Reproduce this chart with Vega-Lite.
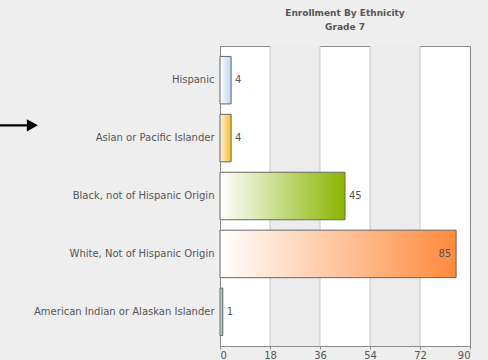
{
  "$schema": "https://vega.github.io/schema/vega-lite/v6.json",
  "width": 250,
  "height": 300,
  "autosize": {"type": "none"},
  "padding": {"left": 220, "top": 46, "right": 18, "bottom": 14},
  "background": "#eeeeee",
  "title": {
    "text": ["Enrollment By Ethnicity", "Grade 7"],
    "font": "DejaVu Sans",
    "fontSize": 9,
    "fontWeight": "bold",
    "color": "#555555",
    "lineHeight": 14,
    "offset": 14,
    "anchor": "middle"
  },
  "config": {
    "view": {"fill": "#ffffff", "stroke": "#8a8a8a", "strokeWidth": 1},
    "font": "DejaVu Sans"
  },
  "datasets": {
    "enroll": [
      {"group": "Hispanic", "value": 4},
      {"group": "Asian or Pacific Islander", "value": 4},
      {"group": "Black, not of Hispanic Origin", "value": 45},
      {"group": "White, Not of Hispanic Origin", "value": 85},
      {"group": "American Indian or Alaskan Islander", "value": 1}
    ],
    "bands": [{"start": 18, "end": 36}, {"start": 54, "end": 72}],
    "grid": [{"v": 18}, {"v": 36}, {"v": 54}, {"v": 72}]
  },
  "layer": [
    {
      "data": {"name": "bands"},
      "mark": {"type": "rect", "fill": "#ececec"},
      "encoding": {
        "x": {"field": "start", "type": "quantitative", "scale": {"domain": [0, 90]}},
        "x2": {"field": "end"}
      }
    },
    {
      "data": {"name": "grid"},
      "mark": {"type": "rule", "color": "#c8c8c8", "strokeWidth": 1},
      "encoding": {
        "x": {"field": "v", "type": "quantitative"}
      }
    },
    {
      "data": {"name": "enroll"},
      "mark": {"type": "bar", "stroke": "#666666", "strokeWidth": 1},
      "encoding": {
        "x": {
          "field": "value",
          "type": "quantitative",
          "scale": {"domain": [0, 90]},
          "axis": {
            "values": [0, 18, 36, 54, 72, 90],
            "title": null,
            "grid": false,
            "domain": false,
            "tickColor": "#888888",
            "tickSize": 3,
            "labelColor": "#555555",
            "labelFont": "DejaVu Sans",
            "labelFontSize": 10,
            "labelPadding": 1
          }
        },
        "y": {
          "field": "group",
          "type": "nominal",
          "sort": null,
          "scale": {
            "domain": ["Hispanic", "Asian or Pacific Islander", "Black, not of Hispanic Origin", "White, Not of Hispanic Origin", "American Indian or Alaskan Islander"],
            "paddingInner": 0.18,
            "paddingOuter": 0.18
          },
          "axis": {
            "title": null,
            "ticks": false,
            "domain": false,
            "labelPadding": 6,
            "labelLimit": 230,
            "labelFont": "DejaVu Sans",
            "labelFontSize": 10,
            "labelColor": "#555555"
          }
        },
        "fill": {
          "condition": [
            {"test": "datum.group === 'Hispanic'", "value": {"gradient": "linear", "stops": [{"offset": 0, "color": "#ffffff"}, {"offset": 1, "color": "#bcd6f2"}]}},
            {"test": "datum.group === 'Asian or Pacific Islander'", "value": {"gradient": "linear", "stops": [{"offset": 0, "color": "#fff4d6"}, {"offset": 1, "color": "#f4bd2c"}]}},
            {"test": "datum.group === 'Black, not of Hispanic Origin'", "value": {"gradient": "linear", "stops": [{"offset": 0, "color": "#ffffff"}, {"offset": 1, "color": "#8ab500"}]}},
            {"test": "datum.group === 'White, Not of Hispanic Origin'", "value": {"gradient": "linear", "stops": [{"offset": 0, "color": "#ffffff"}, {"offset": 1, "color": "#ff8a3c"}]}}
          ],
          "value": {"gradient": "linear", "stops": [{"offset": 0, "color": "#d8f0f0"}, {"offset": 1, "color": "#6fb5b5"}]}
        }
      }
    },
    {
      "data": {"name": "enroll"},
      "transform": [{"filter": "datum.value < 80"}],
      "mark": {"type": "text", "align": "left", "dx": 4, "fontSize": 10, "color": "#555555", "font": "DejaVu Sans"},
      "encoding": {
        "x": {"field": "value", "type": "quantitative"},
        "y": {"field": "group", "type": "nominal", "sort": null},
        "text": {"field": "value", "type": "quantitative"}
      }
    },
    {
      "data": {"name": "enroll"},
      "transform": [{"filter": "datum.value >= 80"}],
      "mark": {"type": "text", "align": "right", "dx": -5, "fontSize": 10, "color": "#555555", "font": "DejaVu Sans"},
      "encoding": {
        "x": {"field": "value", "type": "quantitative"},
        "y": {"field": "group", "type": "nominal", "sort": null},
        "text": {"field": "value", "type": "quantitative"}
      }
    },
    {
      "data": {"values": [{"note": "arrow"}]},
      "mark": {
        "type": "point",
        "shape": "M-1,-0.06L0.42,-0.06L0.42,-0.32L1,0L0.42,0.32L0.42,0.06L-1,0.06Z",
        "filled": true,
        "color": "#000000",
        "opacity": 1,
        "size": 1444
      },
      "encoding": {
        "x": {"datum": -72.4},
        "y": {"datum": "Asian or Pacific Islander"},
        "yOffset": {"value": 11}
      }
    }
  ]
}
